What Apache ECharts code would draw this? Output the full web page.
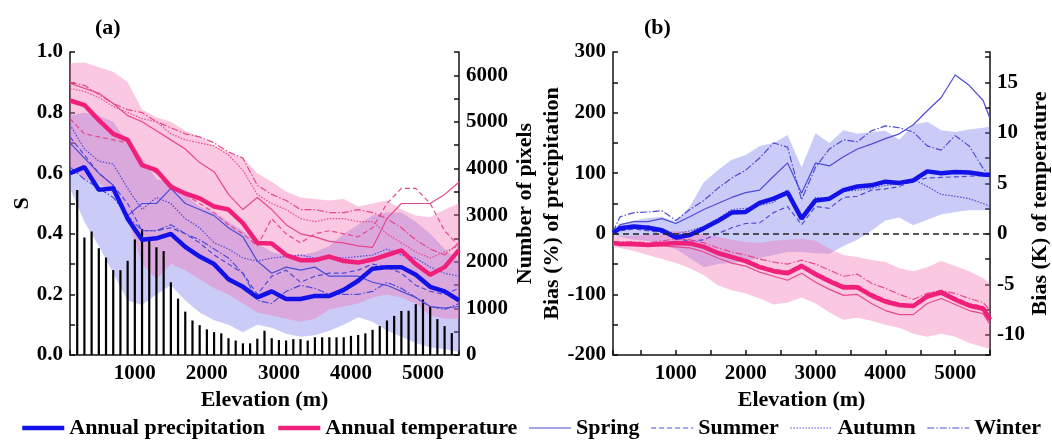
<!DOCTYPE html>
<html>
<head>
<meta charset="utf-8">
<script src="https://cdn.jsdelivr.net/npm/echarts@6/dist/echarts.min.js"></script>
<style>html,body{margin:0;padding:0;background:#fff}#chart{width:1052px;height:441px}</style>
</head>
<body>
<div id="chart"></div>
<script>
// ---- panel (a): skill score S vs elevation ----
const elevA = [100,300,500,700,900,1100,1300,1500,1700,1900,2100,2300,2500,2700,2900,3100,3300,3500,3700,3900,4100,4300,4500,4700,4900,5100,5300,5500];
const pAnnualA = [0.60,0.62,0.545,0.55,0.45,0.38,0.385,0.40,0.357,0.325,0.30,0.25,0.225,0.19,0.21,0.185,0.185,0.195,0.195,0.215,0.245,0.285,0.29,0.29,0.265,0.225,0.21,0.18];
const tAnnualA = [0.84,0.825,0.775,0.73,0.71,0.627,0.61,0.555,0.533,0.517,0.49,0.48,0.435,0.37,0.368,0.33,0.313,0.313,0.325,0.31,0.305,0.315,0.33,0.345,0.30,0.265,0.29,0.347];
const pUpperA = [0.79,0.80,0.79,0.77,0.70,0.65,0.58,0.57,0.53,0.49,0.47,0.44,0.41,0.37,0.34,0.33,0.33,0.34,0.36,0.40,0.43,0.46,0.47,0.47,0.44,0.40,0.35,0.31];
const pLowerA = [0.55,0.44,0.36,0.27,0.18,0.165,0.20,0.23,0.18,0.14,0.115,0.10,0.075,0.10,0.09,0.07,0.06,0.065,0.08,0.10,0.125,0.11,0.08,0.06,0.04,0.025,0.02,0.01];
const tUpperA = [0.963,0.965,0.95,0.935,0.90,0.81,0.785,0.77,0.74,0.72,0.69,0.67,0.65,0.60,0.572,0.54,0.52,0.515,0.51,0.515,0.49,0.50,0.51,0.48,0.46,0.455,0.48,0.50];
const tLowerA = [0.62,0.58,0.57,0.53,0.45,0.30,0.25,0.30,0.28,0.25,0.22,0.20,0.17,0.14,0.13,0.12,0.11,0.12,0.15,0.16,0.17,0.19,0.20,0.19,0.17,0.13,0.12,0.12];
const pSpringA = [0.70,0.65,0.60,0.56,0.46,0.50,0.50,0.55,0.50,0.48,0.46,0.42,0.39,0.31,0.27,0.29,0.28,0.29,0.26,0.26,0.26,0.24,0.23,0.21,0.19,0.16,0.155,0.16];
const pSummerA = [0.72,0.66,0.60,0.56,0.50,0.41,0.41,0.42,0.40,0.37,0.33,0.30,0.27,0.20,0.26,0.28,0.24,0.26,0.27,0.27,0.28,0.30,0.29,0.27,0.23,0.21,0.20,0.22];
const pAutumnA = [0.76,0.68,0.64,0.63,0.55,0.48,0.52,0.50,0.45,0.42,0.37,0.35,0.32,0.31,0.32,0.325,0.33,0.32,0.325,0.32,0.325,0.33,0.35,0.33,0.32,0.29,0.27,0.26];
const pWinterA = [0.62,0.58,0.55,0.52,0.46,0.41,0.41,0.43,0.40,0.38,0.35,0.32,0.27,0.18,0.17,0.21,0.23,0.22,0.20,0.20,0.20,0.21,0.24,0.22,0.19,0.16,0.15,0.17];
const tSpringA = [0.897,0.88,0.864,0.83,0.79,0.77,0.74,0.71,0.68,0.635,0.605,0.53,0.48,0.52,0.48,0.43,0.40,0.39,0.375,0.37,0.36,0.355,0.45,0.50,0.50,0.50,0.53,0.57];
const tSummerA = [0.78,0.73,0.72,0.71,0.70,0.63,0.60,0.56,0.53,0.50,0.47,0.43,0.40,0.36,0.45,0.40,0.37,0.40,0.41,0.40,0.39,0.42,0.50,0.55,0.55,0.50,0.41,0.36];
const tAutumnA = [0.88,0.87,0.85,0.82,0.80,0.78,0.77,0.73,0.71,0.70,0.69,0.66,0.61,0.53,0.50,0.48,0.45,0.44,0.45,0.45,0.44,0.44,0.40,0.37,0.34,0.32,0.34,0.36];
const tWinterA = [0.90,0.89,0.86,0.83,0.81,0.80,0.77,0.75,0.73,0.72,0.70,0.67,0.65,0.56,0.53,0.51,0.48,0.48,0.47,0.47,0.48,0.47,0.45,0.42,0.38,0.35,0.33,0.37];
// number of pixels per 100 m band
const elevBars = [200,300,400,500,600,700,800,900,1000,1100,1200,1300,1400,1500,1600,1700,1800,1900,2000,2100,2200,2300,2400,2500,2600,2700,2800,2900,3000,3100,3200,3300,3400,3500,3600,3700,3800,3900,4000,4100,4200,4300,4400,4500,4600,4700,4800,4900,5000,5100,5200,5300,5400];
const pixelCount = [3540,2520,2650,2290,2090,1820,1820,2020,2480,2700,2470,2310,2230,1560,1210,930,740,640,550,490,465,360,310,250,250,350,520,360,320,310,340,340,310,380,380,380,380,380,410,430,465,540,620,740,840,945,950,1090,1190,1040,770,620,470];

// ---- panel (b): bias vs elevation ----
const elevB = [100,200,400,600,800,1000,1200,1400,1600,1800,2000,2200,2400,2600,2800,3000,3200,3400,3600,3800,4000,4200,4400,4600,4800,5000,5200,5400,5500];
const pAnnualB = [2,9,12,10,6,-6,-2,9,21,35,36,51,58,68,25,55,58,72,78,80,86,84,88,103,100,102,101,98,97];
const pUpperB = [5,15,22,26,28,20,45,85,105,122,130,145,150,163,110,166,150,171,165,168,170,155,180,185,171,168,172,175,177];
const pLowerB = [-2,-5,-10,-12,-18,-25,-40,-55,-50,-48,-45,-40,-35,-30,-30,-32,-33,-20,-10,5,22,27,14,23,32,36,39,39,40];
const pSpringB = [2,15,20,20,25,17,28,40,50,60,68,72,95,117,67,117,112,127,140,148,157,165,180,203,225,262,245,220,190];
const pSummerB = [0,5,8,5,2,-8,-12,-10,0,10,17,18,35,45,15,45,42,60,62,72,74,78,88,92,93,94,95,96,95];
const pAutumnB = [2,10,12,13,8,0,5,12,25,40,42,47,52,73,30,60,58,70,72,75,80,82,90,78,65,62,58,50,45];
const pWinterB = [3,28,35,36,38,22,40,55,75,92,105,125,150,143,56,110,140,155,152,170,178,175,168,145,138,162,145,108,95];
const tAnnualB = [-0.9,-1.0,-1.0,-1.1,-1.0,-0.9,-0.95,-1.3,-1.9,-2.3,-2.7,-3.3,-3.7,-3.9,-3.2,-4.0,-4.7,-5.3,-5.3,-6.1,-6.7,-7.05,-7.15,-6.2,-5.8,-6.5,-7.1,-7.4,-8.5];
const tUpperB = [-0.2,-0.25,-0.2,-0.1,0,0.3,0.2,-0.1,-0.3,-0.6,-0.8,-0.9,-0.7,-0.6,-0.5,-0.7,-1.5,-2.1,-2.3,-2.6,-2.8,-3.4,-3.7,-3.3,-2.7,-3.2,-3.7,-4.4,-4.9];
const tLowerB = [-1.3,-1.4,-1.7,-2.1,-2.5,-2.9,-3.4,-4.1,-5.1,-5.6,-5.9,-6.4,-7.0,-6.8,-6.3,-6.9,-7.8,-8.5,-8.3,-8.6,-9.0,-9.3,-9.9,-10.2,-9.9,-10.2,-10.8,-11.2,-11.4];
const tSpringB = [-1.0,-1.1,-1.2,-1.2,-1.2,-1.3,-1.4,-1.8,-2.4,-2.9,-3.2,-3.8,-4.2,-4.6,-3.9,-4.8,-5.5,-6.1,-6.0,-6.9,-7.6,-8.0,-8.0,-6.9,-6.4,-7.0,-7.6,-7.9,-9.0];
const tSummerB = [-0.85,-0.9,-0.9,-1.0,-0.9,-0.8,-0.85,-1.2,-1.8,-2.2,-2.5,-3.1,-3.5,-3.7,-3.0,-3.8,-4.5,-5.1,-5.1,-5.9,-6.5,-6.9,-7.0,-6.0,-5.6,-6.3,-6.9,-7.2,-8.3];
const tAutumnB = [-1.0,-1.1,-1.1,-1.2,-1.1,-1.0,-1.1,-1.4,-2.0,-2.4,-2.8,-3.4,-3.8,-4.0,-3.3,-4.2,-4.9,-5.5,-5.5,-6.3,-6.9,-7.2,-7.3,-6.4,-6.0,-6.7,-7.3,-7.6,-8.7];
const tWinterB = [-0.8,-0.8,-0.8,-0.9,-0.7,-0.5,-0.6,-0.9,-1.4,-1.8,-2.1,-2.5,-2.8,-3.0,-2.6,-3.0,-3.6,-4.2,-4.0,-4.9,-5.4,-6.0,-6.5,-5.9,-5.6,-5.9,-6.4,-6.8,-7.6];

const FONT = 'Liberation Serif';
const BLUE = '#1212e8', PINK = '#f0207a', THIN_BLUE = '#4c4cd8', THIN_PINK = '#e8478c';
const BLUE_FILL = 'rgba(110,110,235,0.36)', PINK_FILL = 'rgba(245,110,175,0.38)';
const dashes = {Spring: 'solid', Summer: [5, 3], Autumn: [1.5, 1.5], Winter: [7, 2, 1.5, 2]};
const txt = {fontFamily: FONT, fontWeight: 'bold', color: '#000'};
const axisLineStyle = {color: '#111', width: 1.5};

const pairs = (xs, ys) => xs.map((x, i) => [x, ys[i]]);

// shaded range between lo and hi, drawn as one polygon through the axes
function band(xs, lo, hi, color, xi, yi) {
    return {type: 'custom', xAxisIndex: xi, yAxisIndex: yi, silent: true, z: 1,
        data: pairs(xs, hi), encode: {x: 0, y: 1},
        renderItem: (params, api) => {
            if (params.dataIndex !== 0) return null;
            const top = xs.map((x, i) => api.coord([x, hi[i]]));
            const bottom = xs.map((x, i) => api.coord([x, lo[i]])).reverse();
            return {type: 'polygon', shape: {points: top.concat(bottom)}, style: {fill: color}};
        }};
}

function line(name, xs, ys, color, width, type, xi, yi, z) {
    return {name, type: 'line', xAxisIndex: xi, yAxisIndex: yi, symbol: 'none', z: z,
        lineStyle: {color, width, type}, itemStyle: {color}, data: pairs(xs, ys)};
}

const series = [];
// seasonal blue lines first so the legend takes their look
[['Spring', pSpringA, pSpringB], ['Summer', pSummerA, pSummerB], ['Autumn', pAutumnA, pAutumnB], ['Winter', pWinterA, pWinterB]]
    .forEach(([n, a, b]) => {
        series.push(line(n, elevA, a, THIN_BLUE, 1.2, dashes[n], 0, 0, 3));
        series.push(line(n, elevB, b, THIN_BLUE, 1.2, dashes[n], 1, 2, 3));
    });
[['Spring', tSpringA, tSpringB], ['Summer', tSummerA, tSummerB], ['Autumn', tAutumnA, tAutumnB], ['Winter', tWinterA, tWinterB]]
    .forEach(([n, a, b]) => {
        series.push(line(n, elevA, a, THIN_PINK, 1.2, dashes[n], 0, 0, 3));
        series.push(line(n, elevB, b, THIN_PINK, 1.2, dashes[n], 1, 3, 3));
    });
series.push(band(elevA, pLowerA, pUpperA, BLUE_FILL, 0, 0));
series.push(band(elevA, tLowerA, tUpperA, PINK_FILL, 0, 0));
series.push(band(elevB, pLowerB, pUpperB, BLUE_FILL, 1, 2));
series.push(band(elevB, tLowerB, tUpperB, PINK_FILL, 1, 3));
series.push({type: 'bar', xAxisIndex: 0, yAxisIndex: 1, barWidth: 2.2, z: 2, silent: true,
    itemStyle: {color: '#000'}, data: pairs(elevBars, pixelCount)});
series.push(line('Annual precipitation', elevA, pAnnualA, BLUE, 4.5, 'solid', 0, 0, 4));
series.push(line('Annual temperature', elevA, tAnnualA, PINK, 4.5, 'solid', 0, 0, 4));
const pb = line('Annual precipitation', elevB, pAnnualB, BLUE, 4.5, 'solid', 1, 2, 4);
pb.markLine = {silent: true, symbol: 'none', label: {show: false},
    lineStyle: {color: '#222', width: 1.5, type: [6, 4]}, data: [{yAxis: 0}]};
series.push(pb);
series.push(line('Annual temperature', elevB, tAnnualB, PINK, 4.5, 'solid', 1, 3, 4));

const keep = (v, step) => Math.abs(v / step - Math.round(v / step)) < 1e-6;

function xAxis(gi) {
    return {gridIndex: gi, type: 'value', min: 100, max: 5500, splitNumber: 11,
        axisLine: {onZero: false, lineStyle: axisLineStyle},
        axisTick: {inside: true, length: 5, lineStyle: axisLineStyle},
        splitLine: {show: false},
        axisLabel: {...txt, fontSize: 21, margin: 8, formatter: v => (keep(v, 1000) ? String(v) : '')},
        name: 'Elevation (m)', nameLocation: 'middle', nameGap: 28, nameTextStyle: {...txt, fontSize: 22}};
}

function yAxis(gi, pos, min, max, step, labelStep, digits, name, gap) {
    return {gridIndex: gi, type: 'value', position: pos, min, max, interval: step,
        axisLine: {show: true, onZero: false, lineStyle: axisLineStyle},
        axisTick: {show: true, inside: true, length: 5, lineStyle: axisLineStyle},
        splitLine: {show: false},
        axisLabel: {...txt, fontSize: 21, margin: 7, formatter: v => (keep(v, labelStep) ? v.toFixed(digits) : '')},
        name, nameLocation: 'middle', nameGap: gap, nameRotate: 90, nameTextStyle: {...txt, fontSize: 22}};
}

// temperature bias axis: -12..18 K keeps its zero level with the precipitation axis
const tempAxis = yAxis(1, 'right', -12, 18, 5, 5, 0, 'Bias (K) of temperature', 38);
delete tempAxis.interval;
tempAxis.splitNumber = 6;
tempAxis.minorTick = {show: true, splitNumber: 2, length: 5, lineStyle: axisLineStyle};

const chart = echarts.init(document.getElementById('chart'), null, {renderer: 'canvas'});
chart.setOption({
    animation: false,
    backgroundColor: '#fff',
    title: [
        {text: '(a)', left: 90, top: 12, textStyle: {...txt, fontSize: 22}},
        {text: '(b)', left: 639, top: 12, textStyle: {...txt, fontSize: 22}},
    ],
    legend: {
        data: ['Annual precipitation', 'Annual temperature', 'Spring', 'Summer', 'Autumn', 'Winter'],
        left: 20, top: 417, width: 1030, padding: 0, itemWidth: 42, itemHeight: 12, itemGap: 11,
        itemStyle: {color: 'rgba(0,0,0,0)', borderColor: 'rgba(0,0,0,0)', borderWidth: 0},
        lineStyle: {width: 'inherit'},
        textStyle: {...txt, fontSize: 22}, selectedMode: false,
    },
    grid: [
        {left: 70, top: 52, width: 389, height: 303},
        {left: 613, top: 52, width: 389, height: 303},
    ],
    xAxis: [xAxis(0), xAxis(1)],
    yAxis: [
        yAxis(0, 'left', 0, 1, 0.1, 0.2, 1, 'S', 37),
        yAxis(0, 'right', 0, 6500, 500, 1000, 0, 'Number of pixels', 55),
        yAxis(1, 'left', -200, 300, 50, 100, 0, 'Bias (%) of precipitation', 39),
        tempAxis,
    ],
    series,
});
</script>
</body>
</html>
